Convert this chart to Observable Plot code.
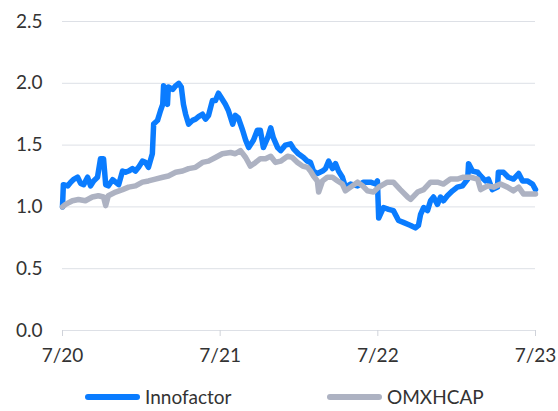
<!DOCTYPE html>
<html>
<head>
<meta charset="utf-8">
<script src="https://cdn.jsdelivr.net/npm/d3@7"></script>
<script src="https://cdn.jsdelivr.net/npm/@observablehq/plot@0.6"></script>
<style>
  body { margin: 0; background: #fff; font-family: Lato, "Noto Sans", sans-serif; }
  #wrap { position: relative; width: 558px; height: 411px; overflow: hidden; }
  .leg { position: absolute; top: 388px; height: 18px; line-height: 18px; font-size: 19px; color: #333; display: flex; align-items: center; white-space: nowrap; }
  .sw { display: inline-block; width: 55px; height: 6px; border-radius: 3px; margin-right: 5px; }
</style>
</head>
<body>
<div id="wrap"></div>
<script>
// Series names
const seriesNames = ["Innofactor", "OMXHCAP"];
const seriesColors = ["#0a7cff", "#adb2c2"];

// Innofactor (relative price, 1.0 = July 2020)
const innoDates = ["2020-07-01","2020-07-03","2020-07-13","2020-07-20","2020-07-26","2020-08-05","2020-08-12","2020-08-19","2020-08-28","2020-09-04","2020-09-11","2020-09-20","2020-09-27","2020-10-04","2020-10-09","2020-10-15","2020-10-25","2020-11-01","2020-11-08","2020-11-17","2020-11-24","2020-12-01","2020-12-10","2020-12-17","2020-12-24","2021-01-02","2021-01-09","2021-01-16","2021-01-25","2021-01-28","2021-02-06","2021-02-13","2021-02-18","2021-02-20","2021-02-24","2021-03-01","2021-03-03","2021-03-13","2021-03-20","2021-03-27","2021-04-02","2021-04-07","2021-04-12","2021-04-19","2021-04-28","2021-05-05","2021-05-12","2021-05-21","2021-05-28","2021-06-04","2021-06-13","2021-06-20","2021-06-27","2021-07-13","2021-07-20","2021-07-30","2021-08-05","2021-08-12","2021-08-22","2021-08-29","2021-09-05","2021-09-16","2021-09-25","2021-10-02","2021-10-09","2021-10-19","2021-10-26","2021-11-01","2021-11-11","2021-11-18","2021-11-29","2021-12-11","2021-12-18","2021-12-29","2022-01-10","2022-01-19","2022-01-26","2022-02-02","2022-02-11","2022-02-23","2022-03-02","2022-03-09","2022-03-18","2022-03-25","2022-04-01","2022-04-10","2022-04-17","2022-04-29","2022-05-15","2022-05-29","2022-06-14","2022-06-26","2022-06-30","2022-07-03","2022-07-14","2022-07-26","2022-08-06","2022-08-18","2022-08-29","2022-09-15","2022-09-26","2022-10-03","2022-10-08","2022-10-15","2022-10-24","2022-10-31","2022-11-07","2022-11-16","2022-11-23","2022-11-30","2022-12-09","2022-12-21","2023-01-01","2023-01-13","2023-01-25","2023-01-27","2023-02-05","2023-02-17","2023-02-24","2023-03-07","2023-03-14","2023-03-23","2023-04-04","2023-04-06","2023-04-18","2023-04-29","2023-05-11","2023-05-23","2023-06-01","2023-06-12","2023-06-24","2023-07-01"];
const innoValues = [1.00,1.18,1.17,1.20,1.22,1.24,1.19,1.18,1.24,1.17,1.21,1.24,1.39,1.39,1.18,1.17,1.22,1.20,1.18,1.29,1.28,1.29,1.31,1.29,1.32,1.37,1.36,1.32,1.43,1.67,1.70,1.78,1.83,1.98,1.87,1.83,1.97,1.95,1.98,2.00,1.97,1.83,1.75,1.67,1.70,1.71,1.73,1.75,1.71,1.74,1.86,1.86,1.92,1.83,1.78,1.67,1.74,1.72,1.62,1.54,1.48,1.54,1.62,1.62,1.48,1.56,1.64,1.56,1.48,1.455,1.50,1.51,1.47,1.43,1.40,1.37,1.36,1.29,1.27,1.29,1.31,1.37,1.31,1.35,1.29,1.24,1.16,1.185,1.17,1.20,1.20,1.185,1.21,0.91,0.995,0.98,0.97,0.89,0.875,0.85,0.83,0.85,0.94,0.995,0.97,1.05,1.08,1.02,1.08,1.05,1.09,1.13,1.16,1.17,1.225,1.35,1.29,1.28,1.25,1.21,1.225,1.14,1.16,1.28,1.28,1.24,1.225,1.27,1.21,1.21,1.185,1.14];

// OMXHCAP (relative index, 1.0 = July 2020)
const omxDates = ["2020-07-01","2020-07-08","2020-07-24","2020-08-07","2020-08-23","2020-09-08","2020-09-22","2020-10-04","2020-10-09","2020-10-15","2020-11-01","2020-11-17","2020-12-01","2020-12-17","2021-01-02","2021-01-16","2021-02-01","2021-02-18","2021-03-03","2021-03-20","2021-04-05","2021-04-19","2021-05-05","2021-05-21","2021-06-04","2021-06-20","2021-07-06","2021-07-25","2021-08-05","2021-08-17","2021-08-29","2021-09-09","2021-09-21","2021-10-02","2021-10-14","2021-10-26","2021-11-06","2021-11-18","2021-12-04","2021-12-15","2021-12-27","2022-01-08","2022-01-19","2022-01-26","2022-02-02","2022-02-11","2022-02-14","2022-02-23","2022-03-06","2022-03-18","2022-03-30","2022-04-10","2022-04-17","2022-04-29","2022-05-15","2022-05-27","2022-06-07","2022-06-21","2022-07-03","2022-07-23","2022-08-06","2022-08-22","2022-09-08","2022-09-15","2022-10-01","2022-10-15","2022-10-31","2022-11-16","2022-11-30","2022-12-16","2023-01-01","2023-01-15","2023-02-01","2023-02-17","2023-02-24","2023-03-12","2023-03-26","2023-04-11","2023-04-27","2023-05-11","2023-05-23","2023-06-03","2023-06-19","2023-07-01"];
const omxValues = [1.00,1.02,1.05,1.06,1.05,1.08,1.09,1.08,1.01,1.09,1.12,1.14,1.16,1.17,1.20,1.21,1.225,1.24,1.25,1.28,1.29,1.31,1.32,1.36,1.37,1.40,1.43,1.44,1.43,1.455,1.40,1.33,1.36,1.39,1.39,1.41,1.36,1.37,1.41,1.40,1.36,1.33,1.32,1.29,1.25,1.21,1.12,1.21,1.24,1.24,1.21,1.185,1.13,1.16,1.20,1.17,1.13,1.12,1.16,1.20,1.20,1.14,1.08,1.06,1.12,1.14,1.20,1.20,1.185,1.225,1.225,1.24,1.24,1.225,1.14,1.17,1.16,1.185,1.16,1.13,1.16,1.105,1.105,1.105];

// Axis ticks
const yTicks = [0, 0.5, 1.0, 1.5, 2.0, 2.5];
const xTickDates = ["2020-07-01","2021-07-01","2022-07-01","2023-07-01"];
const xTickLabels = ["7/20","7/21","7/22","7/23"];

const parse = d3.utcParse("%Y-%m-%d");
const inno = innoDates.map((d, i) => ({date: parse(d), value: innoValues[i]}));
const omx = omxDates.map((d, i) => ({date: parse(d), value: omxValues[i]}));
const xTicks = xTickDates.map(parse);

const chart = Plot.plot({
  width: 558,
  height: 370,
  marginTop: 21,
  marginLeft: 62,
  marginRight: 23,
  marginBottom: 40,
  style: {fontFamily: "Lato, 'Noto Sans', sans-serif", fontSize: "19px", color: "#333", background: "#fff"},
  x: {type: "utc", domain: [xTicks[0], xTicks[3]]},
  y: {domain: [0, 2.5]},
  marks: [
    Plot.ruleY(yTicks, {stroke: "#dde0e6", strokeWidth: 1}),
    Plot.axisY({ticks: yTicks, tickSize: 0, tickPadding: 20, tickFormat: d3.format(".1f"), fill: "#333", label: null}),
    Plot.axisX({ticks: xTicks, tickSize: 6, tickPadding: 12, stroke: "#d0d3da",
      tickFormat: (d) => xTickLabels[xTicks.findIndex(t => +t === +d)], fill: "#333", label: null}),
    Plot.line(inno, {x: "date", y: "value", stroke: seriesColors[0], strokeWidth: 5.5, strokeLinejoin: "round", strokeLinecap: "round"}),
    Plot.line(omx, {x: "date", y: "value", stroke: seriesColors[1], strokeWidth: 5.5, strokeLinejoin: "round", strokeLinecap: "round"})
  ]
});

const wrap = document.getElementById("wrap");
wrap.appendChild(chart);
const legLeft = [85, 327];
seriesNames.forEach((name, i) => {
  const item = document.createElement("div");
  item.className = "leg";
  item.style.left = legLeft[i] + "px";
  const sw = document.createElement("span");
  sw.className = "sw";
  sw.style.background = seriesColors[i];
  const label = document.createElement("span");
  label.textContent = name;
  item.appendChild(sw);
  item.appendChild(label);
  wrap.appendChild(item);
});
</script>
</body>
</html>
